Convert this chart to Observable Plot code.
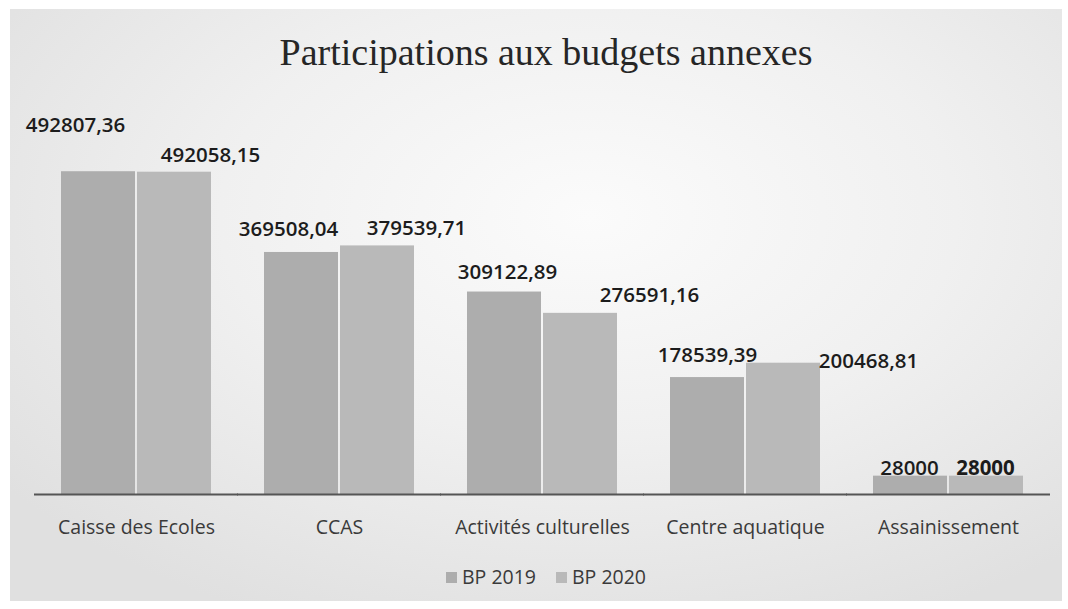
<!DOCTYPE html>
<html><head><meta charset="utf-8">
<script src="https://cdn.jsdelivr.net/npm/d3@7"></script>
<script src="https://cdn.jsdelivr.net/npm/@observablehq/plot@0.6"></script>
<style>
html,body{margin:0;padding:0}
body{background:#fff;width:1068px;height:609px;overflow:hidden;position:relative;font-family:"Open Sans",sans-serif}
#frame{position:absolute;left:10px;top:9px;width:1052px;height:592px;background:radial-gradient(ellipse 70% 75% at 55% 35%, #fbfbfb 0%, #f0f0f0 50%, #e0e0e0 100%)}
#title{position:absolute;left:0;width:1092px;top:30px;text-align:center;font-family:"Liberation Serif",serif;font-size:38px;color:#262626}
#chart{position:absolute;left:0;top:90px}
#legend{position:absolute;left:0;width:1092px;top:563px;text-align:center;font-size:19.5px;color:#3a3a3a}
#legend span.item{display:inline-block;margin:0 10px}
#legend span.sw{display:inline-block;width:11px;height:11px;margin-right:5px;vertical-align:1px}
</style>
</head><body>
<div id="frame"></div>
<div id="title">Participations aux budgets annexes</div>
<div id="chart"></div>
<div id="legend"></div>
<script>
const categories = ["Caisse des Ecoles", "CCAS", "Activités culturelles", "Centre aquatique", "Assainissement"];
const series = ["BP 2019", "BP 2020"];
const bp2019 = [492807.36, 369508.04, 309122.89, 178539.39, 28000];
const bp2020 = [492058.15, 379539.71, 276591.16, 200468.81, 28000];
const seriesColors = ["#adadad", "#b9b9b9"];
// label nudges (dx, dy) in px, layout only
const labelNudge = [[-23,-46],[36,-17],[-13,-23],[39,-17],[3,-20],[69,-18],[0,-22],[85,-2],[-1,-8],[-1,-8]];

const rows = categories.flatMap((c, i) => [
  {cat: c, series: series[0], value: bp2019[i]},
  {cat: c, series: series[1], value: bp2020[i]}
]);
const fmt = v => (v % 1 ? v.toFixed(2).replace(".", ",") : String(v));

const labelMarks = rows.map((r, i) => Plot.text([r], {
  fx: "cat", x: "series", y: "value", text: d => fmt(d.value),
  dx: labelNudge[i][0], dy: labelNudge[i][1],
  fontSize: 20.5, fontWeight: i === rows.length - 1 ? 700 : 600,
  fill: "#1c1c1c", lineAnchor: "middle"
}));

const chart = Plot.plot({
  width: 1068, height: 450,
  marginLeft: 35, marginRight: 18, marginTop: 0, marginBottom: 46,
  style: {fontFamily: "'Open Sans', sans-serif", fontSize: "19.5px", color: "#3a3a3a", background: "transparent", overflow: "visible"},
  fx: {domain: categories, paddingInner: 0.25, paddingOuter: 0.125, axis: "bottom", tickSize: 0, tickPadding: 26, label: null},
  x: {domain: series, axis: null, paddingInner: 0.02, paddingOuter: 0},
  y: {domain: [0, 616800], axis: null},
  color: {domain: series, range: seriesColors},
  marks: [
    Plot.barY(rows, {fx: "cat", x: "series", y: "value", fill: "series"}),
    Plot.ruleY([0], {stroke: "#555", strokeWidth: 2, insetLeft: -26, insetRight: -26}),
    ...labelMarks
  ]
});
document.getElementById("chart").appendChild(chart);

const legend = document.getElementById("legend");
series.forEach((s, i) => {
  const item = document.createElement("span");
  item.className = "item";
  const sw = document.createElement("span");
  sw.className = "sw";
  sw.style.background = seriesColors[i];
  item.appendChild(sw);
  item.appendChild(document.createTextNode(s));
  legend.appendChild(item);
});
</script>
</body></html>
